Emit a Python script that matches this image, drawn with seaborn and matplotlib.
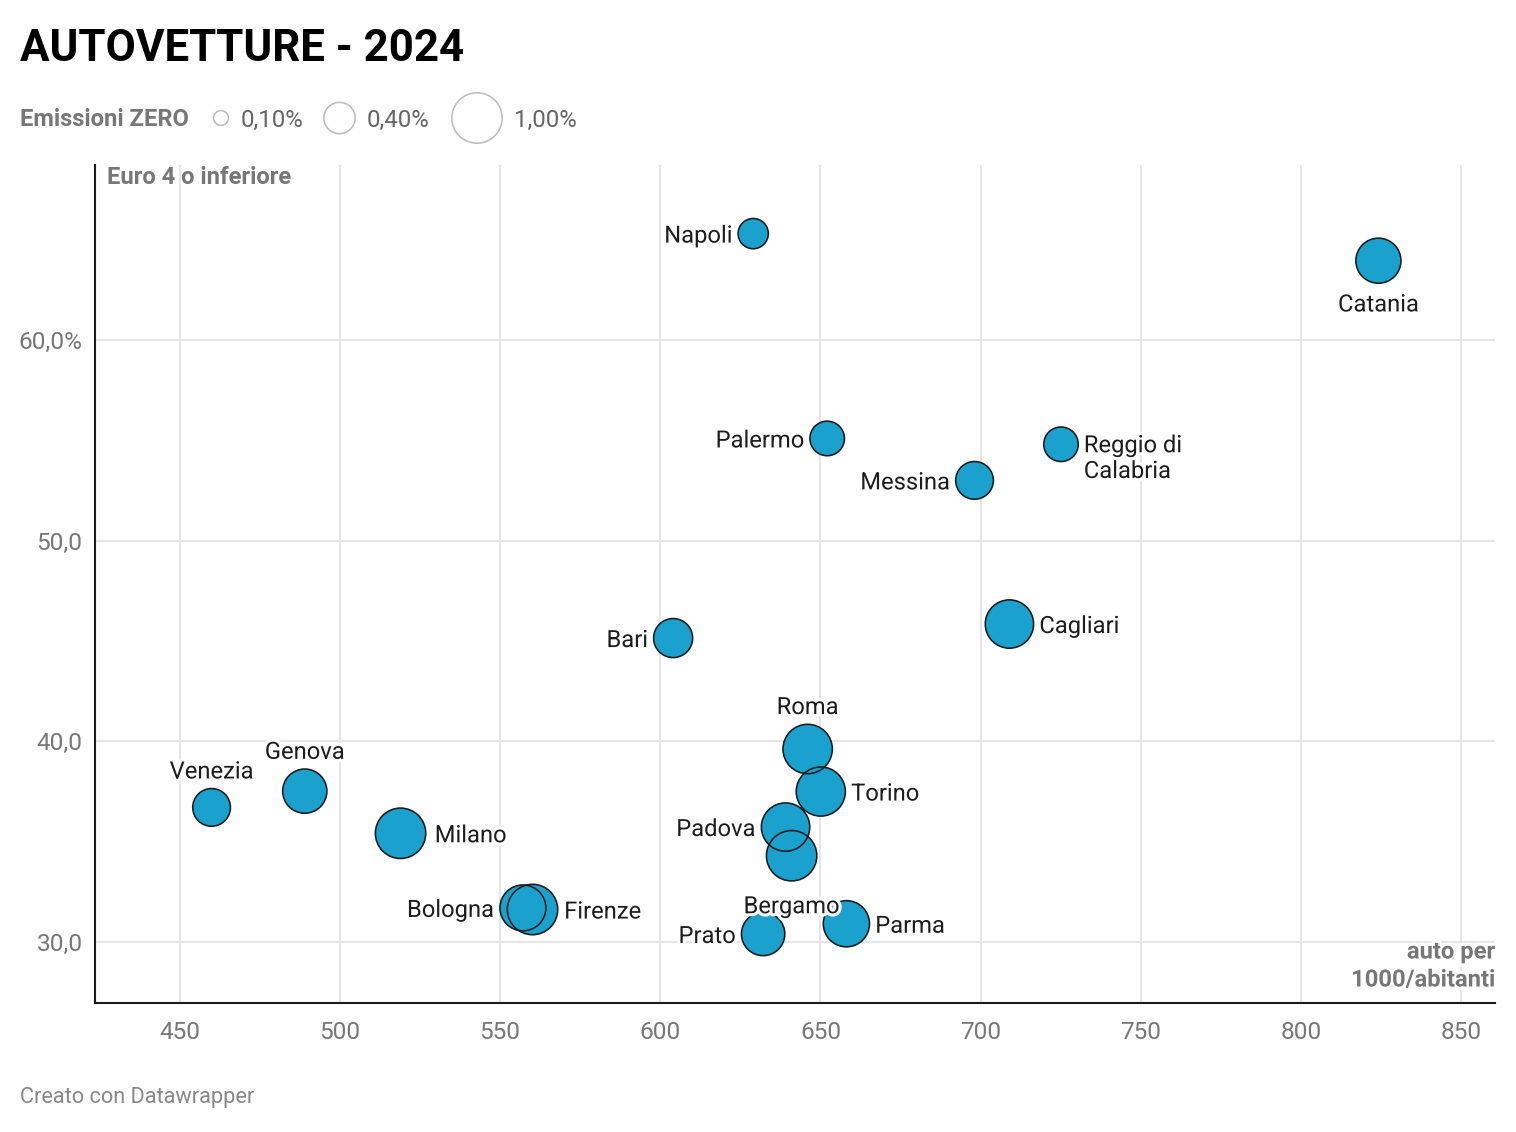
import numpy as np
import pandas as pd
import seaborn as sns
import matplotlib.pyplot as plt
import matplotlib.patheffects as pe

# ---------------- data ----------------
cities = ["Napoli", "Catania", "Palermo", "Reggio di\nCalabria", "Messina", "Cagliari",
          "Bari", "Roma", "Torino", "Padova", "Bergamo", "Prato", "Parma",
          "Bologna", "Firenze", "Milano", "Genova", "Venezia"]
auto_per_1000 = [629.0, 824.2, 652.1, 725.1, 698.1, 709.0,
                 604.0, 646.0, 650.1, 639.1, 641.0, 632.1, 658.1,
                 557.1, 560.1, 518.9, 489.0, 459.9]
euro4_pct = [65.3, 63.95, 55.09, 54.8, 53.0, 45.84,
             45.14, 39.61, 37.49, 35.72, 34.29, 30.39, 30.9,
             31.69, 31.61, 35.41, 37.51, 36.7]
emissioni_zero = [0.36, 0.80, 0.47, 0.47, 0.56, 0.92,
                  0.60, 0.96, 0.95, 0.92, 1.33, 0.74, 0.84,
                  0.83, 1.05, 1.26, 0.77, 0.56]
label_side = ["left", "below", "left", "right", "left", "right",
              "left", "above", "right", "left", "below", "left", "right",
              "left", "right", "right", "above", "above"]

x_ticks = [450, 500, 550, 600, 650, 700, 750, 800, 850]
y_ticks = [30, 40, 50, 60]
y_tick_labels = ["30,0", "40,0", "50,0", "60,0%"]
legend_values = [0.10, 0.40, 1.00]
legend_labels = ["0,10%", "0,40%", "1,00%"]

df = pd.DataFrame({"city": cities, "auto": auto_per_1000,
                   "euro4": euro4_pct, "zero": emissioni_zero, "side": label_side})

# ---------------- style ----------------
sns.set_theme(style="white")
plt.rcParams['font.family'] = ['Roboto', 'DejaVu Sans']

W, H = 1516, 1132
fig = plt.figure(figsize=(W / 100, H / 100), dpi=100)
ax = fig.add_axes([95 / W, 1 - 1003 / H, 1400 / W, 838 / H])

PX = 0.72                     # points per pixel
R1 = 26.0                     # outer radius (px) for value 1.0
EDGE_PX = 1.6
S1 = (2 * (R1 - EDGE_PX / 2) * PX) ** 2
FILL = "#1aa1cd"
EDGE = "#1b1b1b"

# fill layer
sns.scatterplot(data=df, x="auto", y="euro4", size="zero", sizes=(0, S1),
                size_norm=(0, 1), color=FILL, linewidth=0, legend=False,
                ax=ax, zorder=3)
# outline layer (drawn after all fills)
sns.scatterplot(data=df, x="auto", y="euro4", size="zero", sizes=(0, S1),
                size_norm=(0, 1), color=FILL, edgecolor=EDGE,
                linewidth=EDGE_PX * PX, legend=False, ax=ax, zorder=4)
ax.collections[-1].set_facecolor("none")

# labels
halo = [pe.withStroke(linewidth=4.5, foreground="white")]
for _, r in df.iterrows():
    rad = R1 * np.sqrt(r["zero"])
    side = r["side"]
    if side == "left":
        off, ha, va = ((-(rad + 5) * PX, 0), "right", "center_baseline")
    elif side == "right":
        off, ha, va = (((rad + 5) * PX, 0), "left", "center_baseline")
    elif side == "above":
        off, ha, va = ((0, (rad + 18.5) * PX), "center", "center_baseline")
    else:
        off, ha, va = ((0, -(rad + 18.5) * PX), "center", "center_baseline")
    if "\n" in r["city"]:
        va = "top"
        off = (off[0], 10 * PX)
    ax.annotate(r["city"], xy=(r["auto"], r["euro4"]), xytext=off,
                textcoords="offset points", ha=ha, va=va, fontsize=17.1,
                color="#1d1d1d", zorder=6, path_effects=halo,
                linespacing=1.15)

# axes
ax.set_xticks(x_ticks)
ax.set_yticks(y_ticks)
ax.set_yticklabels(y_tick_labels)
ax.grid(True, color="#e6e6e6", linewidth=1.5)
ax.set_axisbelow(True)
for s in ["top", "right"]:
    ax.spines[s].set_visible(False)
for s in ["left", "bottom"]:
    ax.spines[s].set_color("#1b1b1b")
    ax.spines[s].set_linewidth(1.5)
ax.tick_params(axis="both", length=0, labelsize=17.6, labelcolor="#777777")
ax.tick_params(axis="x", pad=13)
ax.tick_params(axis="y", pad=9)
ax.set_xlabel("")
ax.set_ylabel("")

ax.text(107 / W, 1 - 178 / H, "Euro 4 o inferiore", transform=fig.transFigure,
        fontsize=17.1, fontweight="bold", color="#777777", ha="left", va="center")
ax.text(1495 / W, 1 - 952 / H, "auto per", transform=fig.transFigure,
        fontsize=17.1, fontweight="bold", color="#777777", ha="right", va="center",
        path_effects=halo)
ax.text(1495 / W, 1 - 980 / H, "1000/abitanti", transform=fig.transFigure,
        fontsize=17.1, fontweight="bold", color="#777777", ha="right", va="center",
        path_effects=halo)

# title / legend / footer
fig.text(20 / W, 1 - 61 / H, "AUTOVETTURE - 2024", fontsize=31.6, fontweight="bold",
         color="#000000", ha="left", va="baseline")
fig.text(20 / W, 1 - 119 / H, "Emissioni ZERO", fontsize=17.1, fontweight="bold",
         color="#777777", ha="left", va="center")
leg_cx = [221, 339.5, 477]
for cx, v, lab in zip(leg_cx, legend_values, legend_labels):
    rad = R1 * np.sqrt(v)
    ax.scatter([cx / W], [1 - 118 / H], s=(2 * (rad - 0.8) * PX) ** 2,
               transform=fig.transFigure, facecolor="none", edgecolor="#bdbdbd",
               linewidth=1.6 * PX, clip_on=False, zorder=5)
    fig.text((cx + rad + 11) / W, 1 - 118 / H, lab, fontsize=17.3,
             color="#666666", ha="left", va="center_baseline")

fig.text(20 / W, 1 - 1097 / H, "Creato con Datawrapper", fontsize=15.7,
         color="#888888", ha="left", va="center")

ax.set_xlim(423.5, 860.6)
ax.set_ylim(26.95, 68.72)

fig.savefig("out.png", dpi=100)
